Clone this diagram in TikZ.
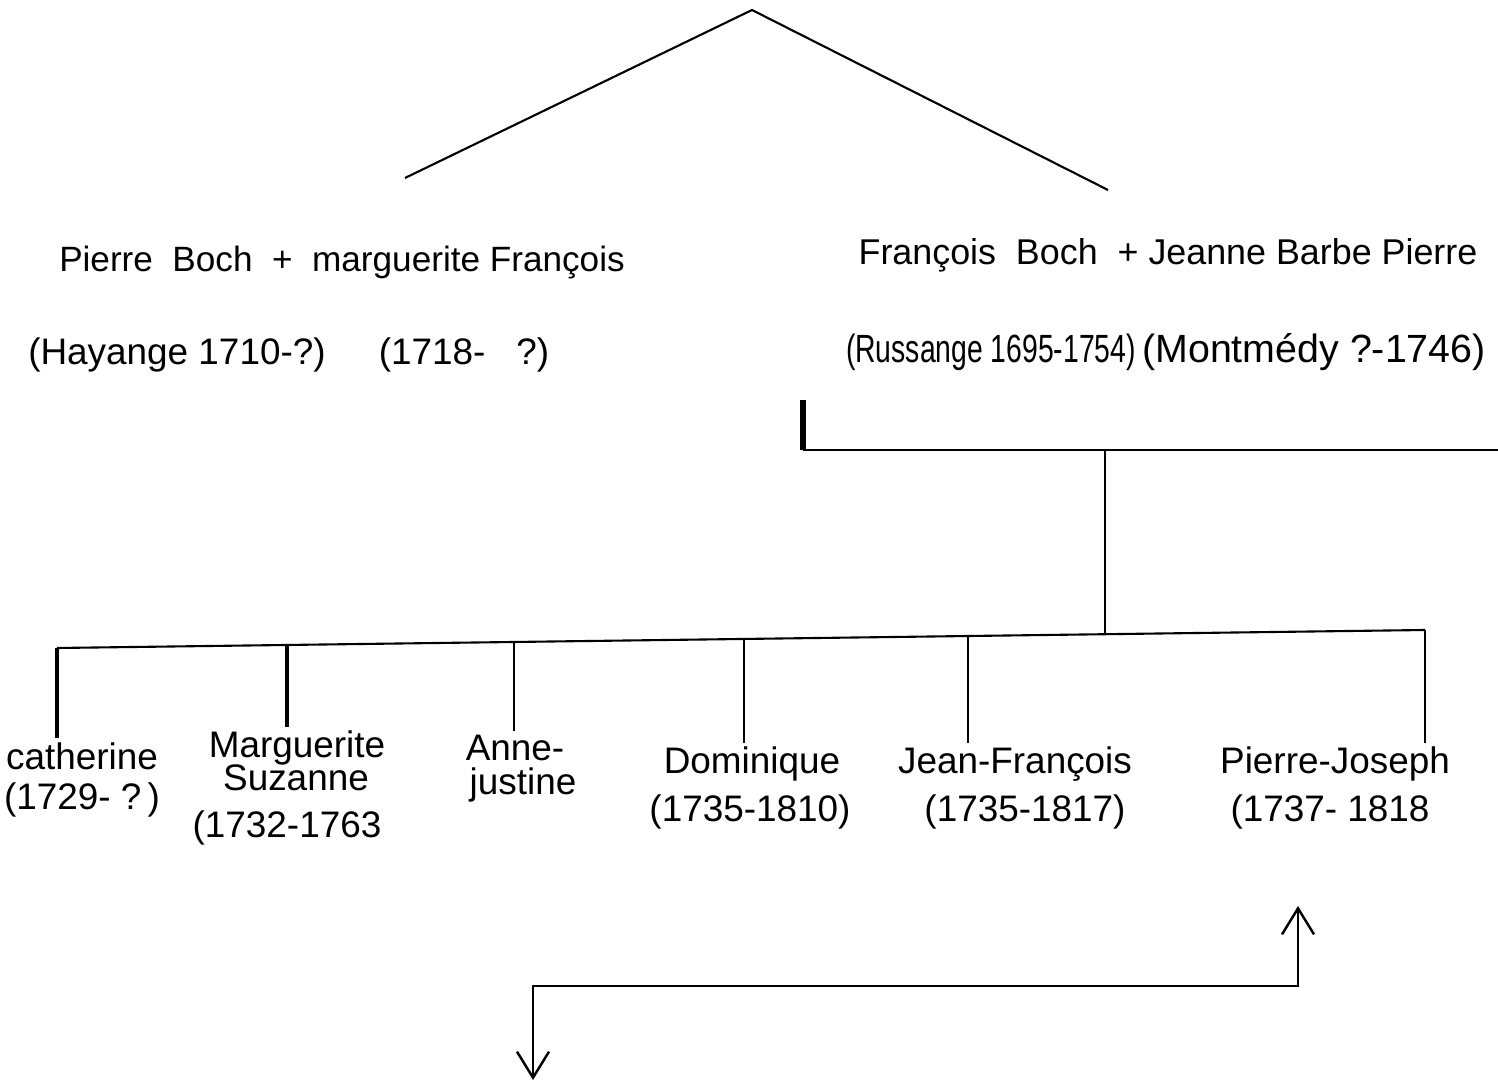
\documentclass[tikz,border=0pt]{standalone}
\usepackage{fontspec}
\setmainfont{Liberation Sans}
\newfontfamily\narrowfont[FakeStretch=0.72]{Liberation Sans}
\usetikzlibrary{arrows.meta}
\tikzset{
  famtext/.style={
    font=\fontsize{10.5}{12}\selectfont,
    inner sep=1pt
  },
  famnarrow/.style={
    font=\narrowfont\fontsize{11.2}{13}\selectfont,
    inner sep=1pt
  },
  famline/.style={draw=black,line width=0.6pt},
  famheavy/.style={draw=black,line width=1.0pt},
  famthick/.style={draw=black,line width=1.6pt},
  famarrow/.style={
    {Straight Barb[length=2.6mm,width=3.2mm]}-{Straight Barb[length=2.6mm,width=3.2mm]},
    draw=black,line width=0.7pt
  }
}

\begin{document}
\begin{tikzpicture}
  \useasboundingbox (0,0) rectangle (14.98,-10.83);

  % the two parents' lines
  \coordinate (roofL) at (4.05,-1.78);
  \coordinate (apex) at (7.52,-0.10);
  \coordinate (roofR) at (11.08,-1.90);
  \draw[famline] (roofL) -- (apex) -- (roofR);

  \node[famtext,font=\fontsize{10}{12}\selectfont] (pierre) at (3.42,-2.62) {Pierre\ \ Boch\ \ +\ \ marguerite\ François};
  \node[famtext] (pierreDates) at (1.77,-3.55) {(Hayange 1710-?)};
  \node[famtext] (margDates) at (4.64,-3.55) {(1718-\ \ \ ?)};

  \node[famtext,font=\fontsize{10.2}{12}\selectfont] (francois) at (11.68,-2.55) {François\ \ Boch\ \ +\ Jeanne Barbe Pierre};
  \node[famnarrow] (francoisDates) at (9.91,-3.52) {(Russange 1695-1754)};
  \node[famtext,font=\fontsize{11.2}{13}\selectfont] (jeanneDates) at (13.14,-3.52) {(Montmédy\ ?-1746)};

  % family bracket
  \coordinate (brkTop) at (8.03,-4.00);
  \coordinate (brkCorner) at (8.03,-4.50);
  \coordinate (brkEnd) at (14.98,-4.50);
  \coordinate (brkDrop) at (11.05,-4.50);
  \coordinate (barMid) at (11.05,-6.34);
  \draw[famthick] (brkTop) -- (brkCorner);
  \draw[famline] (brkCorner) -- (brkEnd);
  \draw[famline] (brkDrop) -- (barMid);

  % children bar
  \coordinate (barL) at (0.57,-6.48);
  \coordinate (barR) at (14.25,-6.30);
  \draw[famline] (barL) -- (barR);
  \coordinate (dropB) at (2.87,-6.45);
  \coordinate (dropC) at (5.14,-6.42);
  \coordinate (dropD) at (7.44,-6.39);
  \coordinate (dropE) at (9.68,-6.36);

  % children
  \node[famtext] (cath) at (0.82,-7.56) {catherine};
  \node[famtext] (cathDates) at (0.82,-8.00) {(1729-\ ?\,)};
  \node[famtext] (margS) at (2.97,-7.48) {Marguerite};
  \node[famtext] (suz) at (2.96,-7.78) {Suzanne};
  \node[famtext] (suzDates) at (2.87,-8.28) {(1732-1763};
  \node[famtext] (anne) at (5.15,-7.48) {Anne-};
  \node[famtext] (justine) at (5.23,-7.85) {justine};
  \node[famtext] (domin) at (7.52,-7.64) {Dominique};
  \node[famtext] (dominDates) at (7.50,-8.12) {(1735-1810)};
  \node[famtext] (jeanF) at (10.15,-7.64) {Jean-François};
  \node[famtext] (jeanFDates) at (10.25,-8.12) {(1735-1817)};
  \node[famtext] (pierreJ) at (13.35,-7.64) {Pierre-Joseph};
  \node[famtext] (pierreJDates) at (13.30,-8.12) {(1737-\ 1818};

  \draw[famheavy] (barL) -- (barL |- cath.north);
  \draw[famheavy] (dropB) -- (dropB |- margS.north);
  \draw[famline] (dropC) -- (dropC |- anne.north);
  \draw[famline] (dropD) -- (dropD |- domin.north);
  \draw[famline] (dropE) -- (dropE |- jeanF.north);
  \draw[famline] (barR) -- (barR |- pierreJ.north);

  % continuation arrow
  \coordinate (arrUp) at (12.98,-9.06);
  \coordinate (arrTurnR) at (12.98,-9.86);
  \coordinate (arrTurnL) at (5.33,-9.86);
  \coordinate (arrDown) at (5.33,-10.80);
  \draw[famarrow] (arrDown) -- (arrTurnL) -- (arrTurnR) -- (arrUp);
\end{tikzpicture}
\end{document}
